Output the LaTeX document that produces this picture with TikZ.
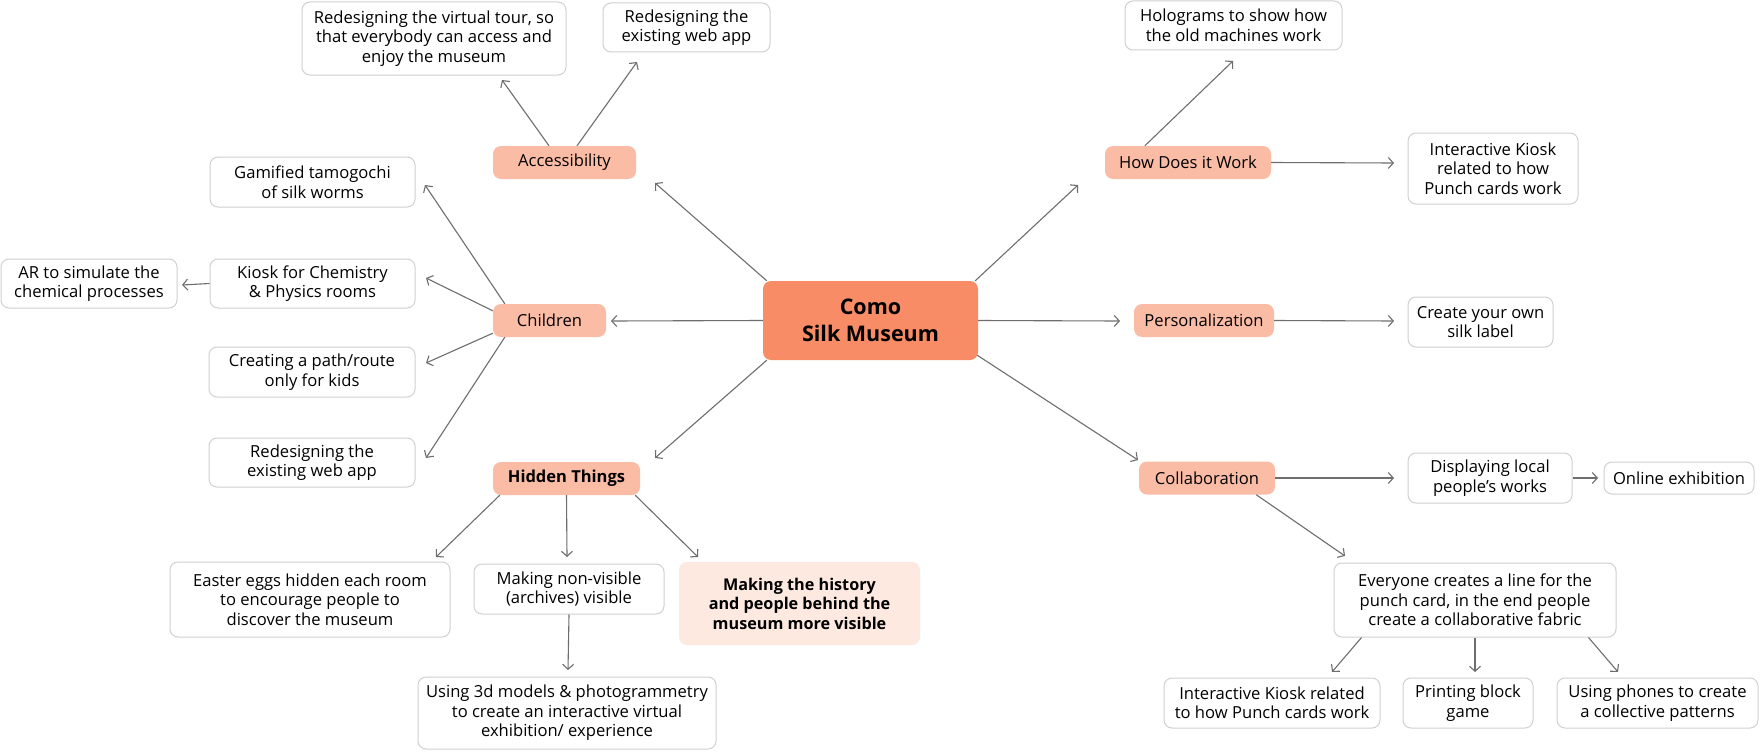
\documentclass[tikz,border=0pt]{standalone}
\usepackage{fontspec}
\setmainfont{Open Sans}
\usetikzlibrary{arrows.meta}
\definecolor{corecol}{HTML}{F78C67}
\definecolor{catcol}{HTML}{FBBCA6}
\definecolor{softcol}{HTML}{FDE9DF}
\definecolor{edgecol}{HTML}{D0D0D0}
\definecolor{arrowcol}{HTML}{6E6E6E}
\begin{document}
\begin{tikzpicture}[x=1pt,y=-1pt,
  base/.style={rounded corners=8pt, align=center, inner sep=0pt, text=black,
    font=\fontsize{16.6}{19.5}\selectfont},
  corebox/.style={base, fill=corecol, font=\fontsize{21.5}{27}\selectfont\bfseries},
  catbox/.style={base, fill=catcol, minimum height=33pt},
  idea/.style={base, fill=white, draw=edgecol, line width=1pt},
  softbox/.style={base, fill=softcol, font=\fontsize{16.2}{19.5}\selectfont\bfseries},
  arr/.style={draw=arrowcol, line width=1.1pt, -{Straight Barb[length=5pt,width=11pt]}}
]
\fill[white] (0,0) rectangle (1760,752);
\useasboundingbox (0,0) rectangle (1760,752);

% centre
\node[corebox, minimum width=215pt, minimum height=79pt] (core) at (870.5,320.5) {Como\\Silk Museum};

% categories
\node[catbox, minimum width=143pt] (acc) at (564.5,162.5) {Accessibility};
\node[catbox, minimum width=113pt] (chi) at (549.5,320.5) {Children};
\node[catbox, minimum width=147pt, font=\fontsize{16.5}{19.5}\selectfont\bfseries] (hid) at (566.5,478.5) {Hidden Things};
\node[catbox, minimum width=166pt] (how) at (1188,162.5) {How Does it Work};
\node[catbox, minimum width=140pt] (per) at (1204,320.5) {Personalization};
\node[catbox, minimum width=136pt] (col) at (1207,478) {Collaboration};

% accessibility ideas
\node[idea, minimum width=264pt, minimum height=73pt] (tour) at (434,38.5) {Redesigning the virtual tour, so\\that everybody can access and\\enjoy the museum};
\node[idea, minimum width=167pt, minimum height=49pt] (webA) at (686.5,27.5) {Redesigning the\\existing web app};

% children ideas
\node[idea, minimum width=205pt, minimum height=50pt] (gam) at (312.5,182) {Gamified tamogochi\\of silk worms};
\node[idea, minimum width=205pt, minimum height=49pt] (kio) at (312.5,283.5) {Kiosk for Chemistry\\\& Physics rooms};
\node[idea, minimum width=176pt, minimum height=49pt] (ar) at (89,283.5) {AR to simulate the\\chemical processes};
\node[idea, minimum width=206pt, minimum height=50pt] (path) at (312,372) {Creating a path/route\\only for kids};
\node[idea, minimum width=206pt, minimum height=49pt] (webC) at (312,462.5) {Redesigning the\\existing web app};

% hidden things ideas
\node[idea, minimum width=280pt, minimum height=75pt] (egg) at (310,599.5) {Easter eggs hidden each room\\to encourage people to\\discover the museum};
\node[idea, minimum width=190pt, minimum height=50pt] (nonv) at (569,589) {Making non-visible\\(archives) visible};
\node[softbox, minimum width=241pt, minimum height=83pt] (hist) at (799.5,603.5) {Making the history\\and people behind the\\museum more visible};
\node[idea, minimum width=298pt, minimum height=72pt] (threed) at (567,713) {Using 3d models \& photogrammetry\\to create an interactive virtual\\exhibition/ experience};

% how does it work ideas
\node[idea, minimum width=217pt, minimum height=49pt] (holo) at (1233.5,25.5) {Holograms to show how\\the old machines work};
\node[idea, minimum width=170pt, minimum height=71pt] (kioR) at (1493,168.5) {Interactive Kiosk\\related to how\\Punch cards work};

% personalization
\node[idea, minimum width=145pt, minimum height=50pt] (label) at (1480.5,322) {Create your own\\silk label};

% collaboration
\node[idea, minimum width=164pt, minimum height=50pt] (disp) at (1490,478) {Displaying local\\people’s works};
\node[idea, minimum width=150pt, minimum height=32pt] (online) at (1679,478) {Online exhibition};
\node[idea, minimum width=282pt, minimum height=74pt] (every) at (1475,600) {Everyone creates a line for the\\punch card, in the end people\\create a collaborative fabric};
\node[idea, minimum width=216pt, minimum height=50pt] (kioB) at (1272,703) {Interactive Kiosk related\\to how Punch cards work};
\node[idea, minimum width=130pt, minimum height=50pt] (print) at (1468,703) {Printing block\\game};
\node[idea, minimum width=201pt, minimum height=50pt] (phone) at (1657.5,703) {Using phones to create\\a collective patterns};

% arrow tips
\coordinate (tAcc) at (655,183);
\coordinate (tChi) at (611,321);
\coordinate (tHid) at (655,458);
\coordinate (tHow) at (1078,185);
\coordinate (tPer) at (1120,321);
\coordinate (tCol) at (1138,460);
\coordinate (tTour) at (502,80);
\coordinate (tWebA) at (637,62);
\coordinate (tGam) at (425,185);
\coordinate (tKio) at (426,278);
\coordinate (tPath) at (426,363);
\coordinate (tWebC) at (426,458);
\coordinate (tAr) at (182,285);
\coordinate (tEgg) at (436,557);
\coordinate (tNonv) at (567,557);
\coordinate (tHist) at (698,557);
\coordinate (t3d) at (568,670);
\coordinate (tHolo) at (1233,61);
\coordinate (tKioR) at (1394,163);
\coordinate (tLabel) at (1394,321);
\coordinate (tDisp) at (1394,478);
\coordinate (tOnline) at (1598,478);
\coordinate (tEvery) at (1345,556);
\coordinate (tKioB) at (1332,672);
\coordinate (tPrint) at (1475,672);
\coordinate (tPhone) at (1618,672);

% connectors
\draw[arr] ([xshift=4pt]core.north west) -- (tAcc);
\draw[arr] (core.west) -- (tChi);
\draw[arr] ([xshift=4pt]core.south west) -- (tHid);
\draw[arr] ([xshift=-3pt]core.north east) -- (tHow);
\draw[arr] (core.east) -- (tPer);
\draw[arr] ([xshift=-1pt,yshift=5pt]core.south east) -- (tCol);

\draw[arr] ([xshift=-15.5pt]acc.north) -- (tTour);
\draw[arr] ([xshift=12.5pt]acc.north) -- (tWebA);

\draw[arr] ([xshift=12pt]chi.north west) -- (tGam);
\draw[arr] ([yshift=-7pt]chi.north west) -- (tKio);
\draw[arr] ([yshift=4pt]chi.south west) -- (tPath);
\draw[arr] ([xshift=12pt]chi.south west) -- (tWebC);
\draw[arr] (kio.west) -- (tAr);

\draw[arr] ([xshift=7pt]hid.south west) -- (tEgg);
\draw[arr] (hid.south) -- (tNonv);
\draw[arr] ([xshift=-5pt]hid.south east) -- (tHist);
\draw[arr] (nonv.south) -- (t3d);

\draw[arr] ([xshift=40pt]how.north west) -- (tHolo);
\draw[arr] (how.east) -- (tKioR);
\draw[arr] (per.east) -- (tLabel);

\draw[arr] (col.east) -- (tDisp);
\draw[arr] (disp.east) -- (tOnline);
\draw[arr] ([xshift=-19pt]col.south east) -- (tEvery);
\draw[arr] ([xshift=28pt]every.south west) -- (tKioB);
\draw[arr] (every.south) -- (tPrint);
\draw[arr] ([xshift=-28pt]every.south east) -- (tPhone);
\end{tikzpicture}
\end{document}
